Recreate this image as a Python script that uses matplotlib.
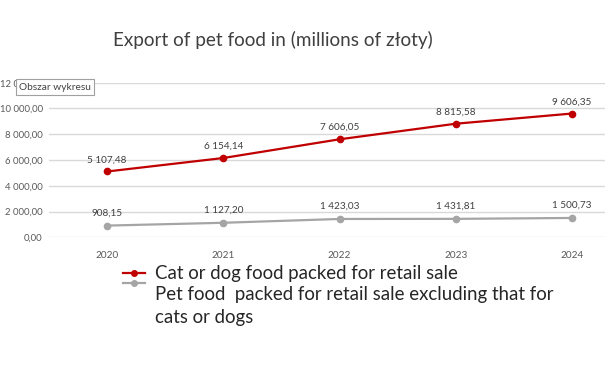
import matplotlib
matplotlib.use("Agg")
from matplotlib import pyplot as plt
from matplotlib.lines import Line2D
from matplotlib.ticker import FuncFormatter, MultipleLocator

years = ["2020", "2021", "2022", "2023", "2024"]
cat_dog = [5107.48, 6154.14, 7606.05, 8815.58, 9606.35]
other_pets = [908.15, 1127.20, 1423.03, 1431.81, 1500.73]

label_cat_dog = "Cat or dog food packed for retail sale"
label_other = "Pet food  packed for retail sale excluding that for\ncats or dogs"
title = "Export of pet food in (millions of złoty)"

RED = "#C00000"
GRAY = "#A5A5A5"
TXT = "#595959"

plt.rcParams["font.family"] = ["Lato", "DejaVu Sans"]


def pl_fmt(v, pos=None):
    s = f"{v:,.2f}"
    return s.replace(",", " ").replace(".", ",")


fig = plt.figure(figsize=(6.05, 3.69), dpi=100)
W, H = 605, 369
# plot area in pixels: x 49..630 (cut at right), y 82.7..237.3
ax = fig.add_axes([49 / W, 1 - 237.3 / H, 581 / W, 154.6 / H])

x = list(range(len(years)))
ax.plot(x, cat_dog, color=RED, lw=1.6, marker="o", ms=4.5, zorder=3)
ax.plot(x, other_pets, color=GRAY, lw=1.6, marker="o", ms=4.5, zorder=3)

for xi, v in zip(x, cat_dog):
    ax.annotate(pl_fmt(v), (xi, v), xytext=(0, 8.5), textcoords="offset points",
                ha="center", va="center", fontsize=7.2, color="#404040")
for xi, v in zip(x, other_pets):
    ax.annotate(pl_fmt(v), (xi, v), xytext=(0, 9), textcoords="offset points",
                ha="center", va="center", fontsize=7.2, color="#404040")

ax.set_xlim(-0.5, len(years) - 0.5)
ax.set_ylim(0, 12000)
ax.yaxis.set_major_locator(MultipleLocator(2000))
ax.yaxis.set_major_formatter(FuncFormatter(pl_fmt))
ax.set_xticks(x)
ax.set_xticklabels(years)
ax.tick_params(axis="both", length=0, labelsize=7.2, labelcolor=TXT)
ax.tick_params(axis="x", pad=10)
ax.tick_params(axis="y", labelsize=6.9, pad=4.5)
ax.grid(axis="y", color="#D9D9D9", lw=1)
ax.set_axisbelow(True)
for sp in ax.spines.values():
    sp.set_visible(False)

fig.text(273 / W, 1 - 40 / H, title, ha="center", va="center",
         fontsize=13.6, color="#404040")

# tooltip box over the top tick label
fig.text(19 / W, 1 - 87 / H, "Obszar wykresu", ha="left", va="center",
         fontsize=7.3, color="#404040", zorder=5,
         bbox=dict(boxstyle="square,pad=0.3", fc="white", ec="#A0A0A0", lw=0.8))

# legend
for yy, c in [(273, RED), (283, GRAY)]:
    fig.add_artist(Line2D([123 / W, 145 / W], [1 - yy / H, 1 - yy / H],
                          color=c, lw=1.6))
    fig.add_artist(Line2D([134 / W], [1 - yy / H], color=c, marker="o", ms=4))
fig.text(155 / W, 1 - 274 / H, label_cat_dog, ha="left", va="center",
         fontsize=13.4, color="#262626")
fig.text(155 / W, 1 - 286 / H, label_other, ha="left", va="top",
         fontsize=13.4, color="#262626", linespacing=1.42)

fig.savefig("out.png", dpi=100)
